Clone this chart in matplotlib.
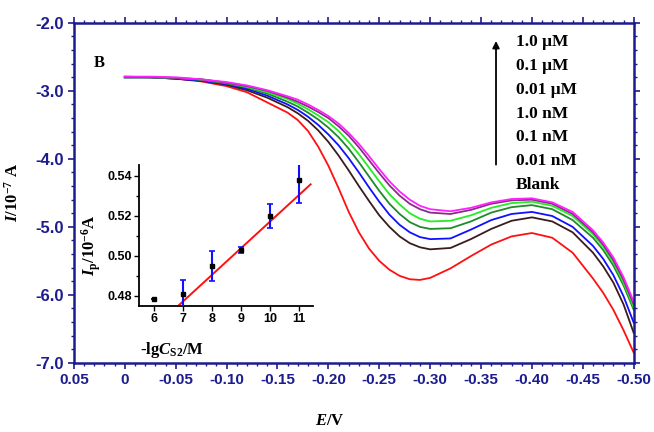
import matplotlib.pyplot as plt
from matplotlib.ticker import MultipleLocator, FixedLocator

plt.rcParams.update({
    "mathtext.fontset": "custom",
    "mathtext.rm": "Liberation Serif:bold",
    "mathtext.it": "Liberation Serif:italic:bold",
    "mathtext.bf": "Liberation Serif:bold",
})

# potential (V) common to all curves
potential = [0.0, -0.025, -0.05, -0.075, -0.10, -0.12, -0.14, -0.16, -0.17, -0.18,
             -0.19, -0.20, -0.21, -0.22, -0.23, -0.24, -0.25, -0.26, -0.27, -0.28,
             -0.29, -0.30, -0.32, -0.34, -0.36, -0.38, -0.40, -0.42, -0.44, -0.46,
             -0.47, -0.48, -0.49, -0.50]

# current (1e-7 A)
blank = [-2.79, -2.80, -2.82, -2.86, -2.93, -3.02, -3.17, -3.32, -3.43, -3.59,
         -3.82, -4.10, -4.43, -4.78, -5.08, -5.32, -5.50, -5.63, -5.72, -5.77,
         -5.78, -5.75, -5.61, -5.43, -5.26, -5.14, -5.09, -5.16, -5.38, -5.76,
         -5.97, -6.22, -6.52, -6.85]
c_001nM = [-2.80, -2.80, -2.82, -2.85, -2.91, -2.99, -3.10, -3.24, -3.33, -3.44,
           -3.58, -3.75, -3.95, -4.17, -4.40, -4.62, -4.83, -5.00, -5.14, -5.24,
           -5.30, -5.33, -5.31, -5.18, -5.03, -4.91, -4.86, -4.92, -5.08, -5.38,
           -5.58, -5.82, -6.14, -6.56]
c_01nM = [-2.80, -2.80, -2.82, -2.85, -2.90, -2.97, -3.07, -3.20, -3.28, -3.38,
          -3.50, -3.64, -3.80, -3.99, -4.20, -4.42, -4.63, -4.82, -4.97, -5.08,
          -5.15, -5.18, -5.17, -5.04, -4.90, -4.81, -4.78, -4.84, -5.00, -5.28,
          -5.47, -5.71, -6.02, -6.41]
c_1nM = [-2.80, -2.80, -2.81, -2.84, -2.89, -2.95, -3.04, -3.16, -3.23, -3.32,
         -3.42, -3.54, -3.68, -3.85, -4.05, -4.26, -4.47, -4.66, -4.81, -4.93,
         -5.00, -5.03, -5.02, -4.92, -4.79, -4.71, -4.68, -4.74, -4.90, -5.16,
         -5.34, -5.57, -5.86, -6.22]
c_001uM = [-2.80, -2.80, -2.81, -2.83, -2.88, -2.94, -3.02, -3.12, -3.19, -3.27,
           -3.36, -3.46, -3.59, -3.75, -3.93, -4.13, -4.33, -4.52, -4.67, -4.80,
           -4.88, -4.92, -4.91, -4.83, -4.72, -4.65, -4.63, -4.69, -4.84, -5.11,
           -5.29, -5.52, -5.82, -6.18]
c_01uM = [-2.80, -2.80, -2.81, -2.83, -2.88, -2.93, -3.00, -3.10, -3.16, -3.23,
          -3.31, -3.40, -3.52, -3.66, -3.83, -4.02, -4.21, -4.39, -4.54, -4.66,
          -4.74, -4.79, -4.81, -4.75, -4.66, -4.61, -4.60, -4.66, -4.81, -5.08,
          -5.26, -5.49, -5.78, -6.14]
c_1uM = [-2.79, -2.79, -2.80, -2.83, -2.87, -2.92, -2.99, -3.08, -3.13, -3.20,
         -3.28, -3.37, -3.48, -3.62, -3.78, -3.96, -4.15, -4.33, -4.48, -4.60,
         -4.69, -4.74, -4.77, -4.72, -4.64, -4.59, -4.58, -4.64, -4.78, -5.05,
         -5.23, -5.45, -5.74, -6.10]

curves = [blank, c_001nM, c_01nM, c_1nM, c_001uM, c_01uM, c_1uM]
colors = ["#ff1010", "#3a1c1c", "#1010ff", "#1e8a2a", "#22ee22", "#8b2a8b", "#ff20ff"]
legend_labels = ["1.0 \u03bcM", "0.1 \u03bcM", "0.01 \u03bcM", "1.0 nM",
                 "0.1 nM", "0.01 nM", "Blank"]

# inset: -lgC vs Ip (1e-6 A)
neg_lg_c = [6, 7, 8, 9, 10, 11]
ip = [0.4784, 0.481, 0.495, 0.503, 0.520, 0.538]
ip_err = [0.0, 0.007, 0.0075, 0.0015, 0.006, 0.0115]
fit_x = [6.85, 11.4]
fit_y = [0.4752, 0.5358]

navy = "#1c1c8e"
tick_font = dict(family="Liberation Sans", weight="bold")
serif = "Liberation Serif"

fig = plt.figure(figsize=(6.54, 4.32), dpi=100)
ax = fig.add_axes([0.113, 0.160, 0.856, 0.787])

for vals, col in zip(curves, colors):
    ax.plot(potential, vals, color=col, lw=1.3)

ax.set_xlim(0.05, -0.50)
ax.set_ylim(-7.0, -2.0)
ax.xaxis.set_minor_locator(MultipleLocator(0.01))
ax.yaxis.set_minor_locator(MultipleLocator(0.2))
ax.tick_params(which="both", direction="out", color=navy, top=True, right=True,
               labeltop=False, labelright=False)
ax.tick_params(which="major", length=4, width=1.2)
ax.tick_params(which="minor", length=2.5, width=1.0)
for sp in ax.spines.values():
    sp.set_color(navy)
    sp.set_linewidth(1.8)

ax.set_xticks([0.05, 0, -0.05, -0.10, -0.15, -0.20, -0.25, -0.30, -0.35, -0.40, -0.45, -0.50])
ax.set_xticklabels(["0.05", "0", "-0.05", "-0.10", "-0.15", "-0.20", "-0.25", "-0.30",
                    "-0.35", "-0.40", "-0.45", "-0.50"], color=navy, fontsize=11, **tick_font)
ax.set_yticks([-2, -3, -4, -5, -6, -7])
ax.set_yticklabels(["-2.0", "-3.0", "-4.0", "-5.0", "-6.0", "-7.0"], color=navy,
                   fontsize=12, **tick_font)
ax.tick_params(axis="x", pad=3)
ax.tick_params(axis="y", pad=3)

ax.set_xlabel(r"$\mathit{E}$/V", fontsize=12, family=serif, weight="bold")
ax.xaxis.set_label_coords(0.457, -0.147)
ax.set_ylabel(r"$\mathit{I}$/10$^{-7}$ A", fontsize=12, family=serif, weight="bold")
ax.yaxis.set_label_coords(-0.093, 0.50)

ax.text(0.035, 0.87, "B", transform=ax.transAxes, fontsize=12, family=serif, weight="bold")

# concentration list with arrow
for i, lab in enumerate(legend_labels):
    ax.text(0.790, 0.945 - i * 0.0705, lab, transform=ax.transAxes, fontsize=12.5,
            family=serif, weight="bold", va="center", ha="left")
ax.annotate("", xy=(0.754, 0.955), xytext=(0.754, 0.575), xycoords="axes fraction",
            arrowprops=dict(arrowstyle="-|>", color="black", lw=1.3, mutation_scale=10))

# inset
ins = fig.add_axes([0.2125, 0.2917, 0.266, 0.326])
ins.plot(fit_x, fit_y, color="#ff1010", lw=1.4, zorder=2)
ins.errorbar(neg_lg_c, ip, yerr=ip_err, fmt="s", color="black", ms=3.5,
             ecolor="#1010ff", elinewidth=1.5, capsize=2.5, capthick=1.2, zorder=3)
ins.set_xlim(5.48, 11.48)
ins.set_ylim(0.4749, 0.5454)
ins.xaxis.set_major_locator(FixedLocator(neg_lg_c))
ins.set_yticks([0.48, 0.50, 0.52, 0.54])
ins.set_yticklabels(["0.48", "0.50", "0.52", "0.54"], fontsize=9, **tick_font)
ins.set_xticklabels([str(v) for v in neg_lg_c], fontsize=9, **tick_font)
ins.yaxis.set_minor_locator(MultipleLocator(0.01))
ins.tick_params(which="both", direction="out", width=1.0)
ins.tick_params(which="major", length=3.5, pad=1.5)
ins.tick_params(which="minor", length=2)
ins.spines["top"].set_visible(False)
ins.spines["right"].set_visible(False)
for s in ("left", "bottom"):
    ins.spines[s].set_linewidth(1.3)
ins.patch.set_alpha(0)
ins.set_xlabel(r"-lg$\mathit{C}_{\mathrm{S2}}$/M", fontsize=12, family=serif, weight="bold")
ins.xaxis.set_label_coords(0.19, -0.24)
ins.set_ylabel(r"$\mathit{I}_{\mathrm{p}}$/10$^{-6}$A", fontsize=12, family=serif, weight="bold")
ins.yaxis.set_label_coords(-0.207, 0.43)

fig.savefig("out.png", dpi=100)
